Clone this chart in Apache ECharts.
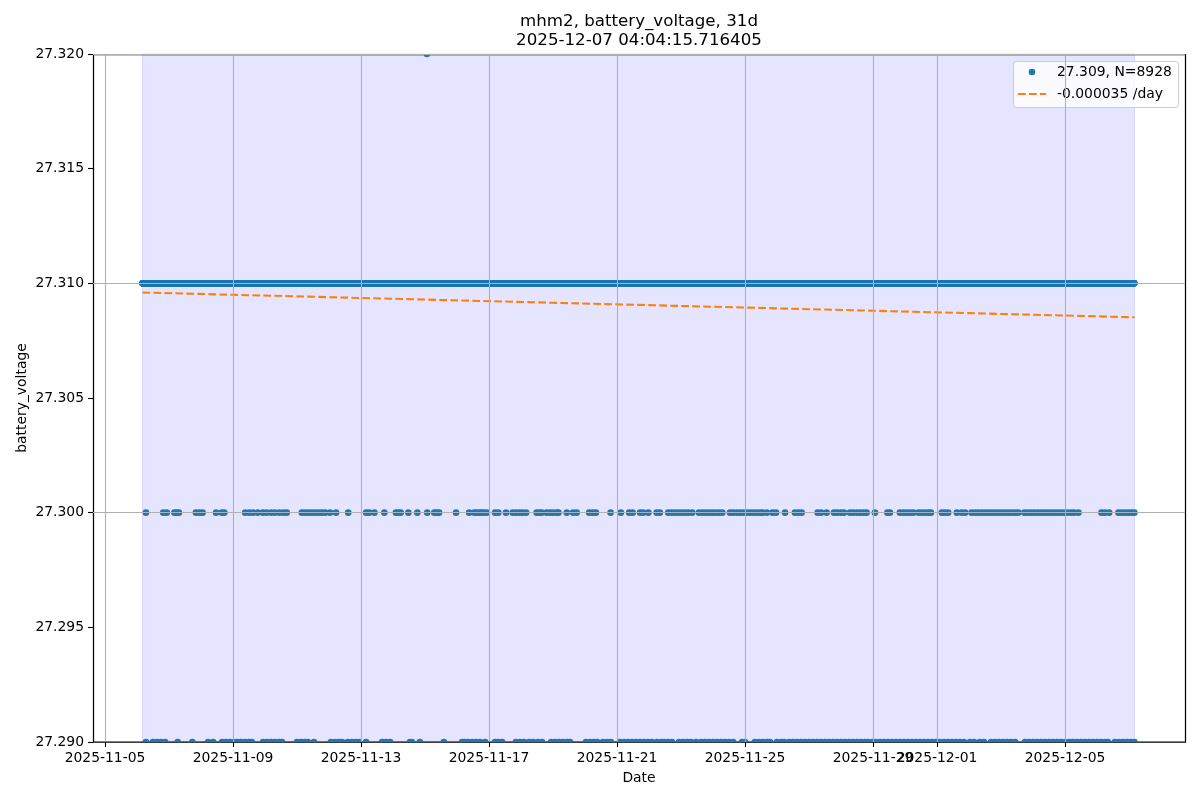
<!DOCTYPE html>
<html><head><meta charset="utf-8">
<script src="https://cdn.jsdelivr.net/npm/echarts@6/dist/echarts.min.js"></script>
<style>html,body{margin:0;padding:0;background:#fff}#c{width:1200px;height:800px}</style>
</head><body><div id="c"></div><script>
// ---------- data ----------
const titleLines = ['mhm2, battery_voltage, 31d', '2025-12-07 04:04:15.716405'];
const xTickLabels = ['2025-11-05','2025-11-09','2025-11-13','2025-11-17','2025-11-21','2025-11-25','2025-11-29','2025-12-01','2025-12-05'];
const yTicks = [27.290, 27.295, 27.300, 27.305, 27.310, 27.315, 27.320];
const legendLabels = ['27.309, N=8928', '-0.000035 /day'];
const xAxisName = 'Date';
const yAxisName = 'battery_voltage';
const dayBase = '2025-11-05T00:00:00Z';
const xRangeDays = [-0.375, 33.75];
// main readings: every 5-minute sample sits at 27.310
const sampleStart = '2025-11-06T04:05:00Z';
const sampleStepMinutes = 5;
const sampleCount = 8928;
const mainLevel = 27.310;
const midLevel = 27.300;
const lowLevel = 27.290;
const highLevel = 27.320;
// readings at 27.300 (days after 2025-11-05)
const midDays = [1.28,1.82,1.93,2.17,2.24,2.31,2.84,2.95,3.05,3.47,3.65,3.73,4.38,4.51,4.63,4.77,4.93,5.05,5.19,5.31,5.45,5.57,5.68,6.15,6.25,6.35,6.46,6.56,6.67,6.77,6.88,7.03,7.22,7.60,8.16,8.26,8.42,8.73,
9.09,9.17,9.24,9.48,9.76,10.07,10.29,10.37,10.44,10.97,11.38,11.54,11.62,11.70,11.77,11.84,11.93,12.19,12.29,12.53,12.74,12.84,12.95,13.05,13.16,13.49,13.57,13.65,13.80,13.91,14.01,14.12,14.17,14.43,14.63,14.74,15.13,15.24,15.34,15.80,16.12,16.38,16.49,16.72,
16.82,16.98,17.24,17.34,17.60,17.71,17.81,17.92,18.02,18.13,18.23,18.35,18.56,18.67,18.77,18.88,18.98,19.08,19.19,19.29,19.53,19.63,19.74,19.84,19.95,20.05,20.16,20.26,20.37,20.47,20.55,20.68,20.86,20.97,21.25,21.56,21.67,21.77,22.27,22.38,22.55,22.78,22.88,22.99,23.09,23.28,23.38,23.49,23.59,23.70,23.80,24.06,24.45,
24.53,24.84,24.95,25.05,25.16,25.26,25.42,25.52,25.63,25.73,25.81,26.15,26.25,26.35,26.62,26.77,26.88,27.08,27.19,27.29,27.40,27.50,27.60,27.71,27.81,27.92,28.02,28.13,28.23,28.33,28.44,28.54,28.73,28.83,28.94,29.04,29.15,29.25,29.35,29.46,29.56,29.67,29.77,29.88,29.98,30.08,30.19,30.29,30.42,31.14,31.25,31.38,31.67,31.77,31.88,31.98,32.08,32.17];
// readings at 27.290
const lowDays = [1.28,1.50,1.63,1.75,1.88,2.27,2.73,3.22,3.38,3.66,3.78,3.91,4.03,4.13,4.25,4.38,4.50,4.59,4.94,5.06,5.19,5.31,5.44,5.53,6.00,6.13,6.25,6.34,6.53,7.06,7.19,7.31,7.41,7.59,7.72,7.84,7.94,8.16,8.66,8.78,8.91,
9.53,9.59,9.84,10.59,11.16,11.25,11.34,11.47,11.59,11.72,11.88,12.19,12.28,12.41,12.84,12.97,13.09,13.25,13.38,13.53,13.66,13.94,14.06,14.19,14.31,14.44,14.53,15.03,15.16,15.28,15.38,15.56,15.69,15.81,16.09,16.22,16.34,16.47,16.59,
16.72,16.84,16.97,17.09,17.25,17.38,17.47,17.59,17.72,17.94,18.06,18.19,18.31,18.47,18.63,18.75,18.88,19.00,19.13,19.25,19.38,19.50,19.63,19.91,20.00,20.31,20.44,20.56,20.69,20.78,21.00,21.13,21.22,21.38,21.50,21.63,21.75,21.88,22.00,22.13,22.25,22.38,22.50,22.63,22.75,22.88,23.00,23.13,23.25,23.38,23.50,23.63,23.75,23.84,23.97,24.09,24.22,24.34,24.47,
24.59,24.72,24.84,24.97,25.09,25.22,25.34,25.47,25.59,25.72,25.84,25.97,26.09,26.22,26.34,26.47,26.59,26.72,26.84,27.03,27.16,27.34,27.47,27.69,27.81,27.94,28.06,28.19,28.31,28.44,28.75,28.88,29.00,29.13,29.25,29.38,29.50,29.63,29.75,29.88,30.00,30.13,30.25,30.38,30.50,30.63,30.75,30.88,31.00,31.13,31.25,31.34,31.56,31.69,31.81,31.94,32.06,32.17];
// reading at 27.320
const highDays = [10.06];
// linear trend
const trendDays = [1.17, 32.17];
const trendValues = [27.3096, 27.30852];
// shaded data span
const spanDays = [1.17, 32.17];

// ---------- build ----------
const DAY = 86400000;
const base = Date.parse(dayBase);
const toT = d => base + d * DAY;
const t0 = Date.parse(sampleStart);
const mainData = [];
for (let i = 0; i < sampleCount; i++) mainData.push([t0 + i * sampleStepMinutes * 60000, mainLevel]);
const midData = midDays.map(d => [toT(d), midLevel]);
const edgeData = lowDays.map(d => [toT(d), lowLevel]).concat(highDays.map(d => [toT(d), highLevel]));
const xTicks = xTickLabels.map(s => Date.parse(s + 'T00:00:00Z'));
const trendData = trendDays.map((d, i) => [toT(d), trendValues[i]]);

const FONT = '"DejaVu Sans", sans-serif';
const BLUE = '#1f77b4', ORANGE = '#ff7f0e';
const R = 3.3;
const gridLine = {color: '#b0b0b0', width: 1.1, type: 'solid'};
const G = {left: 93, right: 15, top: 54, bottom: 58};

const chart = echarts.init(document.getElementById('c'), null, {renderer: 'canvas'});
chart.setOption({
  animation: false,
  backgroundColor: '#fff',
  textStyle: {fontFamily: FONT, color: '#000'},
  grid: {left: G.left, right: G.right, top: G.top, bottom: G.bottom, show: false, containLabel: false, outerBoundsMode: 'none'},
  xAxis: {
    type: 'value', min: toT(xRangeDays[0]), max: toT(xRangeDays[1]), scale: true,
    name: xAxisName, nameLocation: 'middle', nameGap: 29, nameMoveOverlap: false,
    nameTextStyle: {fontFamily: FONT, fontSize: 13.9, color: '#000'},
    axisLine: {show: false, onZero: false},
    axisTick: {show: true, length: 5, lineStyle: {color: '#000', width: 1.1}, customValues: xTicks},
    axisLabel: {show: true, margin: 9, fontFamily: FONT, fontSize: 13.9, color: '#000', customValues: xTicks, hideOverlap: false,
      showMinLabel: true, showMaxLabel: true,
      formatter: v => new Date(v).toISOString().slice(0, 10)},
    splitLine: {show: false}
  },
  yAxis: {
    type: 'value', min: yTicks[0], max: yTicks[yTicks.length - 1], interval: 0.005, scale: true,
    name: yAxisName, nameLocation: 'middle', nameGap: 64, nameRotate: 90, nameMoveOverlap: false,
    nameTextStyle: {fontFamily: FONT, fontSize: 13.9, color: '#000'},
    axisLine: {show: false, onZero: false},
    axisTick: {show: true, length: 5, lineStyle: {color: '#000', width: 1.1}},
    axisLabel: {show: true, margin: 9, fontFamily: FONT, fontSize: 13.9, color: '#000', formatter: v => Number(v).toFixed(3)},
    splitLine: {show: false}
  },
  series: [
    { // shaded span
      type: 'line', data: [], z: 1, silent: true,
      markArea: {silent: true, itemStyle: {color: 'rgba(0,0,255,0.1)', borderColor: 'rgba(0,0,255,0.12)', borderWidth: 1},
        data: [[{xAxis: toT(spanDays[0])}, {xAxis: toT(spanDays[1])}]]}
    },
    { // grid lines
      type: 'line', data: [], z: 1.5, silent: true,
      markLine: {silent: true, symbol: ['none', 'none'], label: {show: false}, lineStyle: gridLine, animation: false,
        data: xTicks.map(t => ({xAxis: t})).concat(yTicks.slice(1, -1).map(v => ({yAxis: v})))}
    },
    {
      name: legendLabels[0], type: 'scatter', data: mainData.concat(midData), z: 3, symbol: 'circle', symbolSize: 2 * R,
      itemStyle: {color: BLUE, opacity: 1}, large: false, silent: true
    },
    {
      name: legendLabels[0] + ' edge', type: 'custom', data: edgeData, z: 3, clip: true, silent: true,
      encode: {x: 0, y: 1},
      renderItem: (params, api) => {
        const p = api.coord([api.value(0), api.value(1)]);
        return {type: 'circle', shape: {cx: p[0], cy: p[1], r: R}, style: {fill: BLUE}};
      }
    },
    {
      name: legendLabels[1], type: 'line', data: trendData, z: 4, symbol: 'none', silent: true,
      lineStyle: {color: ORANGE, width: 2.08, type: [7.7, 3.3]}
    }
  ],
  graphic: [
    // axes frame (spines)
    {type: 'rect', z: 99, silent: true, shape: {x: G.left + 0.5, y: G.top + 0.5, width: 1200 - G.left - G.right, height: 800 - G.top - G.bottom - 0.5},
      style: {fill: 'none', stroke: '#000', lineWidth: 1.25}},
    {type: 'text', x: 639, y: 22, z: 100, style: {text: titleLines[0], font: '16.67px ' + FONT, fill: '#000', align: 'center', verticalAlign: 'middle', textAlign: 'center', textVerticalAlign: 'middle'}},
    {type: 'text', x: 639, y: 41, z: 100, style: {text: titleLines[1], font: '16.67px ' + FONT, fill: '#000', align: 'center', verticalAlign: 'middle', textAlign: 'center', textVerticalAlign: 'middle'}},
    {type: 'rect', z: 100, shape: {x: 1013.5, y: 61.5, width: 165, height: 46, r: 3}, style: {fill: 'rgba(255,255,255,0.8)', stroke: '#cccccc', lineWidth: 1}},
    {type: 'circle', z: 101, shape: {cx: 1032, cy: 72, r: R}, style: {fill: BLUE}},
    {type: 'line', z: 101, shape: {x1: 1018, y1: 94, x2: 1046, y2: 94}, style: {stroke: ORANGE, lineWidth: 2.08, lineDash: [7.7, 3.3]}},
    {type: 'text', x: 1057, y: 72, z: 101, style: {text: legendLabels[0], font: '13.9px ' + FONT, fill: '#000', align: 'left', verticalAlign: 'middle', textAlign: 'left', textVerticalAlign: 'middle'}},
    {type: 'text', x: 1057, y: 94, z: 101, style: {text: legendLabels[1], font: '13.9px ' + FONT, fill: '#000', align: 'left', verticalAlign: 'middle', textAlign: 'left', textVerticalAlign: 'middle'}}
  ]
});
</script></body></html>
